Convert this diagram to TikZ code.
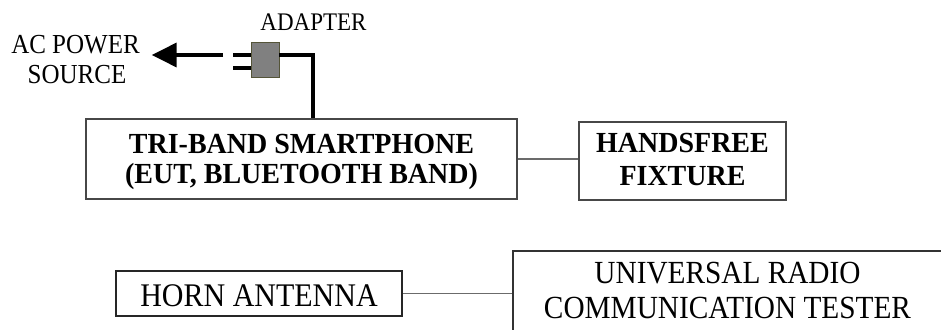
\documentclass[tikz,border=0pt]{standalone}
\usepackage{fontspec}
\setmainfont{Liberation Serif}
\usetikzlibrary{arrows.meta}
\definecolor{boxgray}{gray}{0.28}
\definecolor{linkgray}{gray}{0.42}
\definecolor{adaptfill}{gray}{0.5}
\definecolor{adaptedge}{rgb}{0.33,0.33,0.22}
\newcommand{\tallreg}[1]{\scalebox{1}[1.1]{#1}}
\newcommand{\tallbold}[1]{\scalebox{1}[1.04]{#1}}
\begin{document}
\begin{tikzpicture}[x=1pt,y=-1pt,
  box/.style={draw=boxgray, line width=1.4pt, inner sep=0pt, fill=none},
  link/.style={draw=linkgray, line width=1.5pt},
  cable/.style={draw=black, line width=3.6pt},
  boldtxt/.style={anchor=base, inner sep=0pt, font=\fontsize{28}{30}\selectfont\bfseries},
  regtxt/.style={anchor=base, inner sep=0pt, font=\fontsize{#1}{#1}\selectfont},
  regtxt/.default=30]
\useasboundingbox (0,0) rectangle (941,329);
\clip (0,0) rectangle (941,329);
% boxes
\node[box, minimum width=431, minimum height=80] (eut) at (301.5,159) {};
\node[box, minimum width=207, minimum height=78] (hf) at (682.5,161) {};
\node[box, draw=black!85, minimum width=286, minimum height=45] (horn) at (259,293.5) {};
\node[box, draw=black!80, minimum width=487, minimum height=149] (urct) at (756.5,325.5) {};
\node[draw=adaptedge, line width=0.8pt, fill=adaptfill, inner sep=0pt,
      minimum width=28, minimum height=35] (adapter) at (265,59.5) {};
% texts
\node[boldtxt] (eut1) at (301.5,153.3) {\tallbold{TRI-BAND SMARTPHONE}};
\node[boldtxt] (eut2) at (301.5,183.3) {\tallbold{(EUT, BLUETOOTH BAND)}};
\node[boldtxt] (hf1) at (682.5,152.3) {\tallbold{HANDSFREE}};
\node[boldtxt] (hf2) at (682.5,185) {\tallbold{FIXTURE}};
\node[regtxt] (horntxt) at (259,306) {\tallreg{HORN ANTENNA}};
\node[regtxt=29.3] (urct1) at (727.5,283.3) {\tallreg{UNIVERSAL RADIO}};
\node[regtxt=29.3] (urct2) at (727.5,318.3) {\tallreg{COMMUNICATION TESTER}};
\node[regtxt=23] (adtxt) at (313.5,30.7) {\tallreg{ADAPTER}};
\node[regtxt=25] (ac1) at (75.5,53.3) {\tallreg{AC POWER}};
\node[regtxt=25] (ac2) at (77,83.3) {\tallreg{SOURCE}};
% connectors
\draw[link] (eut.east) -- (eut.east -| hf.west);
\draw[link] (horn.east) -- (horn.east -| urct.west);
\draw[cable] ([yshift=4.5pt]adapter.east) -| ([xshift=11.5pt]eut.north);
\draw[cable] ([yshift=4.5pt]adapter.west) -- ++(-18,0);
\draw[cable] ([yshift=-8.5pt]adapter.west) -- ++(-18,0);
\coordinate (plug) at (223,55);
\coordinate (tip) at (151.7,55);
\draw[cable, -{Triangle[length=25pt,width=24pt]}] (plug) -- (tip);
\end{tikzpicture}
\end{document}
